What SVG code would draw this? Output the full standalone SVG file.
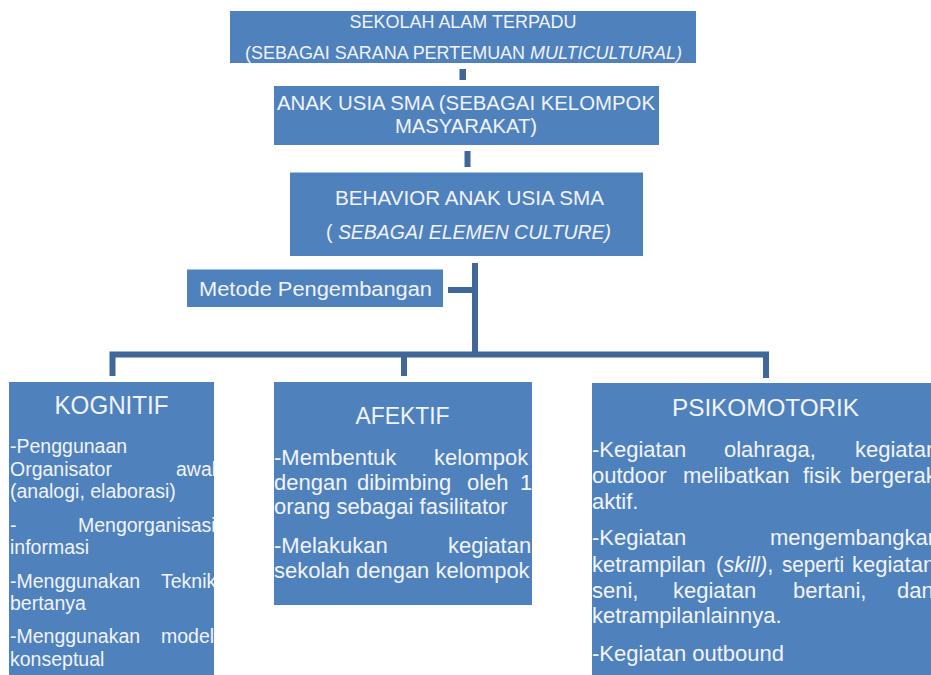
<svg xmlns="http://www.w3.org/2000/svg" width="931" height="675" viewBox="0 0 931 675">
<style>
.box{fill:#4f81bd}
.t{font-family:"Liberation Sans",Arial,sans-serif;fill:#f1f4f9}
.c{text-anchor:middle}
.i{font-style:italic}
.conn{fill:none;stroke:#3f6899;stroke-width:6;stroke-linejoin:miter;stroke-linecap:butt}
</style>
<defs>
<clipPath id="clipK"><rect x="9" y="382" width="205" height="300"/></clipPath>
<clipPath id="clipA"><rect x="274" y="382" width="258" height="223"/></clipPath>
<clipPath id="clipP"><rect x="592" y="383" width="345" height="300"/></clipPath>
</defs>
<rect width="931" height="675" fill="#ffffff"/>
<g id="connectors">
<rect x="459.5" y="69" width="6.5" height="11" fill="#3f6899"/>
<rect x="464.5" y="151" width="6" height="16" fill="#3f6899"/>
<path class="conn" d="M475 263 V354.5"/>
<path class="conn" d="M448 290 H475"/>
<path class="conn" d="M112.5 376 V354.5 H766 V378"/>
<path class="conn" d="M404 354.5 V376"/>
</g>
<g id="node-sekolah">
<rect class="box" x="230" y="11" width="466" height="52"/>
<text class="t c" x="463" y="28" font-size="18" textLength="227" lengthAdjust="spacingAndGlyphs">SEKOLAH ALAM TERPADU</text>
<text class="t c" x="463.5" y="59" font-size="18" textLength="437" lengthAdjust="spacingAndGlyphs">(SEBAGAI SARANA PERTEMUAN <tspan class="i">MULTICULTURAL)</tspan></text>
</g>
<g id="node-anak">
<rect class="box" x="274" y="86" width="385" height="59"/>
<text class="t c" x="466" y="110" font-size="20" textLength="378" lengthAdjust="spacingAndGlyphs">ANAK USIA SMA (SEBAGAI KELOMPOK</text>
<text class="t c" x="466" y="133" font-size="20" textLength="142" lengthAdjust="spacingAndGlyphs">MASYARAKAT)</text>
</g>
<g id="node-behavior">
<rect class="box" x="290" y="172.5" width="353" height="83.5"/>
<text class="t c" x="469.5" y="205" font-size="19.5" textLength="269" lengthAdjust="spacingAndGlyphs">BEHAVIOR ANAK USIA SMA</text>
<text class="t c" x="468.5" y="239" font-size="19.5" textLength="285" lengthAdjust="spacingAndGlyphs">( <tspan class="i">SEBAGAI ELEMEN CULTURE)</tspan></text>
</g>
<g id="node-metode">
<rect class="box" x="187" y="269.5" width="256" height="37.5"/>
<text class="t" x="199" y="296" font-size="20" textLength="233" lengthAdjust="spacingAndGlyphs">Metode Pengembangan</text>
</g>
<g id="node-kognitif">
<rect class="box" x="9" y="382" width="205" height="300"/>
<text class="t c" x="111.5" y="414" font-size="26" textLength="114" lengthAdjust="spacingAndGlyphs">KOGNITIF</text>
<g clip-path="url(#clipK)" class="t" font-size="19.5">
<text x="10" y="453">-Penggunaan</text>
<text y="475.5"><tspan x="10">Organisator</tspan><tspan x="176">awal</tspan></text>
<text x="10" y="498">(analogi, elaborasi)</text>
<text y="531.5"><tspan x="10">-</tspan><tspan x="78">Mengorganisasi</tspan></text>
<text x="10" y="554">informasi</text>
<text y="587.5"><tspan x="10">-Menggunakan</tspan><tspan x="161">Teknik</tspan></text>
<text x="10" y="610">bertanya</text>
<text y="642.5"><tspan x="10">-Menggunakan</tspan><tspan x="161">model</tspan></text>
<text x="10" y="665.5">konseptual</text>
</g>
</g>
<g id="node-afektif">
<rect class="box" x="274" y="382" width="258" height="223"/>
<text class="t c" x="402.5" y="424" font-size="24.5" textLength="94" lengthAdjust="spacingAndGlyphs">AFEKTIF</text>
<g clip-path="url(#clipA)" class="t" font-size="22">
<text y="465"><tspan x="274">-Membentuk</tspan><tspan x="434">kelompok</tspan></text>
<text y="489.5"><tspan x="274">dengan</tspan><tspan x="357">dibimbing</tspan><tspan x="467">oleh</tspan><tspan x="520">1</tspan></text>
<text x="274" y="514">orang sebagai fasilitator</text>
<text y="552.5"><tspan x="274">-Melakukan</tspan><tspan x="448">kegiatan</tspan></text>
<text x="274" y="577.5">sekolah dengan kelompok</text>
</g>
</g>
<g id="node-psikomotorik">
<rect class="box" x="592" y="383" width="345" height="300"/>
<text class="t c" x="765.5" y="416" font-size="23" textLength="187" lengthAdjust="spacingAndGlyphs">PSIKOMOTORIK</text>
<g clip-path="url(#clipP)" class="t" font-size="22">
<text y="457"><tspan x="592">-Kegiatan</tspan><tspan x="724">olahraga,</tspan><tspan x="855">kegiatan</tspan></text>
<text y="483"><tspan x="592">outdoor</tspan><tspan x="683">melibatkan</tspan><tspan x="803">fisik</tspan><tspan x="850">bergerak</tspan></text>
<text x="592" y="508.5">aktif.</text>
<text y="545"><tspan x="592">-Kegiatan</tspan><tspan x="770">mengembangkan</tspan></text>
<text y="571.5"><tspan x="592">ketrampilan</tspan><tspan x="716">(</tspan><tspan class="i">skill)</tspan>,</text>
<text y="571.5" x="782" textLength="62" lengthAdjust="spacingAndGlyphs">seperti</text>
<text y="571.5" x="852">kegiatan</text>
<text y="598"><tspan x="592">seni,</tspan><tspan x="673">kegiatan</tspan><tspan x="793">bertani,</tspan><tspan x="897">dan</tspan></text>
<text x="592" y="623">ketrampilanlainnya.</text>
<text x="592" y="661">-Kegiatan outbound</text>
</g>
</g>
</svg>
